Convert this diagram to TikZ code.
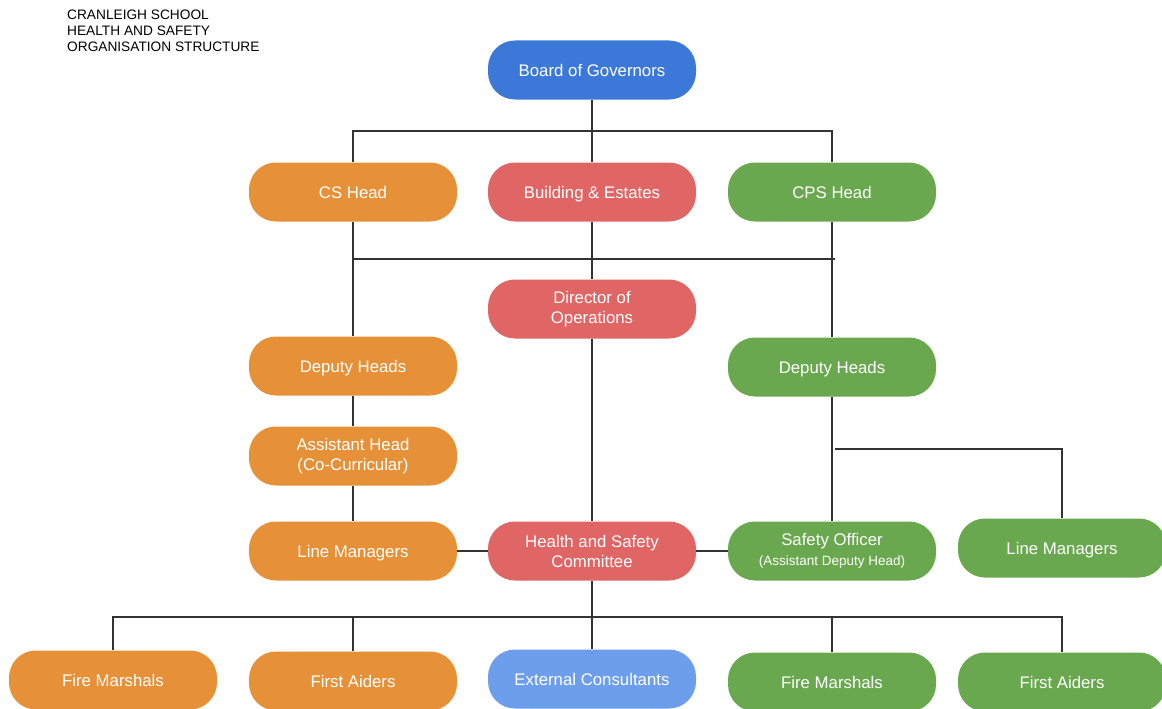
\documentclass[tikz,border=0pt]{standalone}
\usepackage{fontspec}
\setmainfont{Liberation Sans}
\usetikzlibrary{positioning}
\definecolor{govblue}{HTML}{3C78D8}
\definecolor{csorange}{HTML}{E69138}
\definecolor{estred}{HTML}{E06666}
\definecolor{cpsgreen}{HTML}{6AA84F}
\definecolor{extblue}{HTML}{6D9EEB}
\begin{document}
\begin{tikzpicture}[x=1pt,y=-1pt,
  pillbase/.style={rectangle, rounded corners=27pt, minimum width=208pt, minimum height=59pt,
    text=white, align=center, font=\fontsize{16.8}{20}\selectfont, inner sep=0pt},
  pill/.style={pillbase, text height=16pt, text depth=3.5pt},
  pilltwo/.style={pillbase},
  link/.style={draw=black!80, line width=1.3pt}]
\useasboundingbox (0,0) rectangle (1162,709);
\node[anchor=north west, align=left, font=\fontsize{13.7}{16}\selectfont, inner sep=0pt] (title) at (67,10)
  {CRANLEIGH SCHOOL\\HEALTH AND SAFETY\\ORGANISATION STRUCTURE};
% top level
\node[pill, fill=govblue] (board) at (592,70) {Board of Governors};
\node[pill, fill=csorange] (cs) at (353,192) {CS Head};
\node[pill, fill=estred] (build) at (592,192) {Building \& Estates};
\node[pill, fill=cpsgreen] (cps) at (832,192) {CPS Head};
% middle
\node[pilltwo, fill=estred] (dir) at (592,309) {Director of\\Operations};
\node[pill, fill=csorange] (dhl) at (353,366) {Deputy Heads};
\node[pill, fill=cpsgreen] (dhr) at (832,367) {Deputy Heads};
\node[pilltwo, fill=csorange] (ahead) at (353,456) {Assistant Head\\(Co-Curricular)};
\node[pill, fill=csorange] (lml) at (353,551) {Line Managers};
\node[pilltwo, fill=estred] (hsc) at (592,551) {Health and Safety\\Committee};
\node[pilltwo, fill=cpsgreen] (safe) at (832,551) {Safety Officer\\{\fontsize{13.5}{16}\selectfont(Assistant Deputy Head)}};
\node[pill, fill=cpsgreen] (lmr) at (1062,548) {Line Managers};
% bottom row
\node[pill, fill=csorange] (fml) at (113,680) {Fire Marshals};
\node[pill, fill=csorange] (fal) at (353,681) {First Aiders};
\node[pill, fill=extblue] (ext) at (592,679) {External Consultants};
\node[pill, fill=cpsgreen] (fmr) at (832,682) {Fire Marshals};
\node[pill, fill=cpsgreen] (far) at (1062,682) {First Aiders};
% junctions
\coordinate (topbar) at (592,131);
\coordinate (midL) at (353,259);
\coordinate (midR) at (835,259);
\coordinate (brR) at (835,449);
\coordinate (botbar) at (592,617);
% connectors
\draw[link] (board.south) -- (topbar);
\draw[link] (cs.north) |- (topbar) -| (cps.north);
\draw[link] (topbar) -- (build.north);
\draw[link] (midL) -- (midR);
\draw[link] (cs.south) -- (dhl.north);
\draw[link] (build.south) -- (dir.north);
\draw[link] (cps.south) -- (dhr.north);
\draw[link] (dir.south) -- (hsc.north);
\draw[link] (dhl.south) -- (ahead.north);
\draw[link] (ahead.south) -- (lml.north);
\draw[link] (dhr.south) -- (safe.north);
\draw[link] (brR) -| (lmr.north);
\draw[link] (lml.east) -- (hsc.west);
\draw[link] (hsc.east) -- (safe.west);
\draw[link] (fml.north) |- (botbar) -| (far.north);
\draw[link] (hsc.south) -- (ext.north);
\draw[link] (fal.north) -- (fal.north |- botbar);
\draw[link] (fmr.north) -- (fmr.north |- botbar);
\end{tikzpicture}
\end{document}
